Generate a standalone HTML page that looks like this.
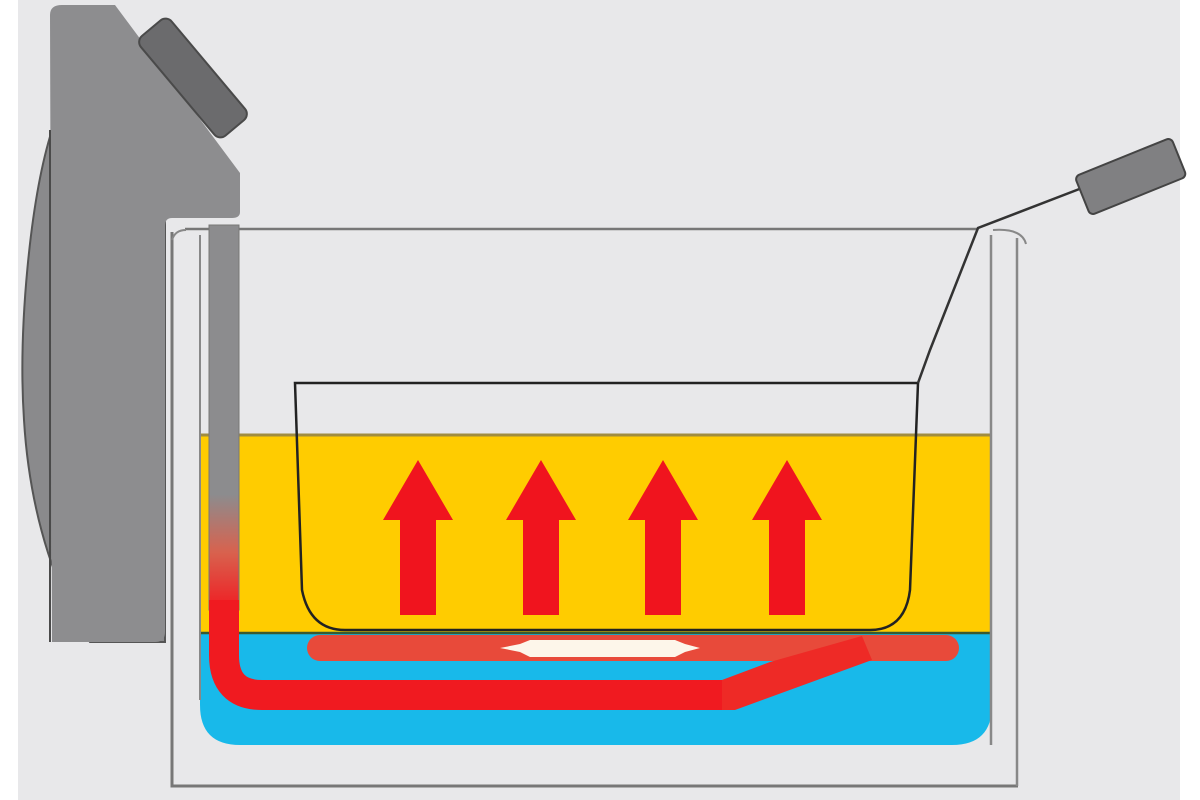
<!DOCTYPE html>
<html><head><style>html,body{margin:0;padding:0;background:#fff}svg{display:block}</style></head>
<body>
<svg width="1200" height="800" viewBox="0 0 1200 800" xmlns="http://www.w3.org/2000/svg">
<defs>
<linearGradient id="tube" x1="0" y1="0" x2="0" y2="1">
<stop offset="0" stop-color="#8c8c8e"/><stop offset="0.7" stop-color="#8c8c8e"/><stop offset="0.85" stop-color="#d8624e"/><stop offset="1" stop-color="#f01c22"/>
</linearGradient>
</defs>
<rect x="18" y="0" width="1162" height="800" fill="#e8e8ea"/>
<!-- back plate -->
<path d="M52,130 C30,200 18,330 24,420 C30,520 60,600 90,642 L165,642 L165,130 Z" fill="#8a8a8c" stroke="#555" stroke-width="2"/>
<!-- body -->
<path d="M50,15 Q50,5 62,5 L115,5 L240,173 L240,212 Q240,218 232,218 L172,218 Q165,218 165,226 L165,632 Q165,642 155,642 L52,642 Z" fill="#8d8d8f"/>
<line x1="50" y1="130" x2="50" y2="642" stroke="#4a4a4a" stroke-width="2"/>
<!-- knob -->
<g transform="translate(193,78) rotate(50)">
<rect x="-65" y="-20" width="130" height="40" rx="8" fill="#6b6b6d" stroke="#4a4a4a" stroke-width="2"/>
</g>
<!-- tank top line -->
<line x1="185" y1="229" x2="978" y2="229" stroke="#777" stroke-width="2.5"/>
<!-- oil -->
<rect x="200" y="435" width="792" height="198" fill="#ffcc00"/>
<line x1="200" y1="435" x2="992" y2="435" stroke="#a08c40" stroke-width="3"/>
<!-- water -->
<path d="M200,633 L992,633 L992,705 Q992,745 952,745 L240,745 Q200,745 200,705 Z" fill="#18b9ea"/>
<line x1="200" y1="633" x2="992" y2="633" stroke="#3a5a30" stroke-width="2.5"/>
<!-- tank walls -->
<path d="M172,232 L172,786 L1018,786" fill="none" stroke="#777" stroke-width="3"/>
<line x1="1017" y1="238" x2="1017" y2="786" stroke="#888" stroke-width="2.5"/>
<line x1="991" y1="235" x2="991" y2="745" stroke="#888" stroke-width="2.5"/>
<line x1="200" y1="235" x2="200" y2="700" stroke="#888" stroke-width="2"/>
<path d="M993,230 Q1022,228 1026,244" fill="none" stroke="#888" stroke-width="2"/>
<path d="M186,230 Q175,230 172,240" fill="none" stroke="#888" stroke-width="2"/>
<!-- heating element -->
<rect x="209" y="225" width="30" height="385" fill="url(#tube)" stroke="#777" stroke-width="1"/>
<path d="M224,600 L224,655 Q224,695 262,695 L728,695" fill="none" stroke="#f01a20" stroke-width="30" stroke-linejoin="round"/>
<path d="M320,648 L946,648" stroke="#e84a3a" stroke-width="26" stroke-linecap="round"/>
<polygon points="722,680 770,662 862,636 872,660 735,710 722,710" fill="#ee2a26"/>
<path d="M500,648 L520,644 L530,640 L675,640 L685,644 L700,648 L685,652 L675,657 L530,657 L520,652 Z" fill="#fdf6ea"/>
<!-- arrows -->
<g fill="#f0141e">
<path d="M400,615 L400,520 L383,520 L418,460 L453,520 L436,520 L436,615 Z"/>
<path d="M523,615 L523,520 L506,520 L541,460 L576,520 L559,520 L559,615 Z"/>
<path d="M645,615 L645,520 L628,520 L663,460 L698,520 L681,520 L681,615 Z"/>
<path d="M769,615 L769,520 L752,520 L787,460 L822,520 L805,520 L805,615 Z"/>
</g>
<!-- basket -->
<path d="M295,383 L918,383 L910,590 Q905,630 870,630 L345,630 Q310,630 302,590 Z" fill="none" stroke="#222" stroke-width="2.5"/>
<path d="M918,383 L930,350 L978,228 L1082,188" fill="none" stroke="#333" stroke-width="2.5"/>
<g transform="translate(1127,178) rotate(-22)">
<rect x="-48" y="-21" width="104" height="42" rx="5" fill="#808082" stroke="#444" stroke-width="2"/>
</g>
</svg>
</body></html>
